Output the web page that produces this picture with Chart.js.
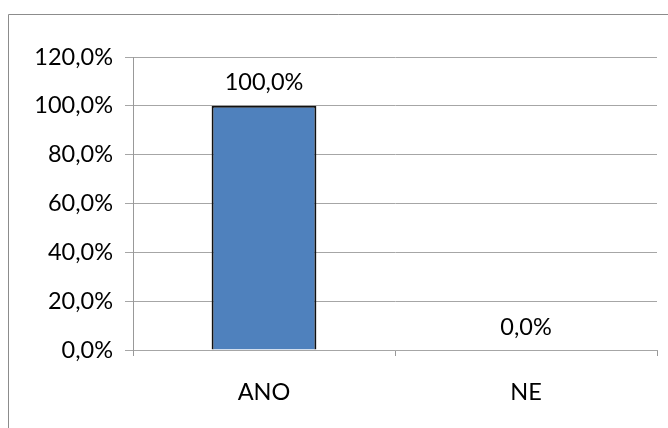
<!DOCTYPE html>
<html><head><meta charset="utf-8">
<script src="https://cdn.jsdelivr.net/npm/chart.js@4/dist/chart.umd.min.js"></script>
<style>html,body{margin:0;padding:0;background:#fff}#wrap{width:668px;height:428px}</style>
</head><body><div id="wrap"><canvas id="c" width="668" height="428"></canvas></div>
<script>
const categories = ["ANO", "NE"];
const values = [100, 0];
const yTicks = [0, 20, 40, 60, 80, 100, 120];

const fmt = v => v.toFixed(1).replace('.', ',') + '%';
const FONT = 'Lato';
const FS = 23.5;

const frame = {
  id: 'frame',
  beforeDraw(chart) {
    const ctx = chart.ctx;
    ctx.save();
    ctx.strokeStyle = '#8c8c8c';
    ctx.lineWidth = 1;
    ctx.beginPath();
    ctx.moveTo(8.5, 428); ctx.lineTo(8.5, 14.5); ctx.lineTo(668, 14.5);
    ctx.stroke();
    ctx.restore();
  }
};
const labels = {
  id: 'labels',
  afterDatasetsDraw(chart) {
    const ctx = chart.ctx;
    ctx.save();
    ctx.font = FS + 'px ' + FONT;
    ctx.fillStyle = '#000';
    ctx.textAlign = 'center';
    ctx.textBaseline = 'middle';
    chart.getDatasetMeta(0).data.forEach((el, i) => {
      ctx.fillText(fmt(values[i]), el.x, el.y - 23);
    });
    ctx.restore();
  }
};

new Chart(document.getElementById('c'), {
  type: 'bar',
  data: {
    labels: categories,
    datasets: [{
      data: values,
      backgroundColor: '#4F81BD',
      borderColor: '#111',
      borderWidth: 2,
      barPercentage: 0.4,
      categoryPercentage: 1
    }]
  },
  options: {
    responsive: false,
    animation: false,
    layout: { padding: { left: 0, right: 11, top: 57, bottom: 0 } },
    plugins: { legend: { display: false }, tooltip: { enabled: false } },
    scales: {
      x: {
        grid: { display: true, drawOnChartArea: false, color: '#999', tickLength: 6, offset: true },
        border: { color: '#a6a6a6', width: 1 },
        ticks: { color: '#000', font: { family: FONT, size: FS }, padding: 22 },
        afterFit(s) { s.height = 78; }
      },
      y: {
        min: 0, max: 120,
        afterBuildTicks(s) { s.ticks = yTicks.map(v => ({ value: v })); },
        grid: { color: '#a6a6a6', tickLength: 8 },
        border: { color: '#999', width: 1 },
        ticks: { color: '#000', font: { family: FONT, size: FS }, padding: 12, callback: v => fmt(v) },
        afterFit(s) { s.width = 133; }
      }
    }
  },
  plugins: [frame, labels]
});
</script></body></html>
